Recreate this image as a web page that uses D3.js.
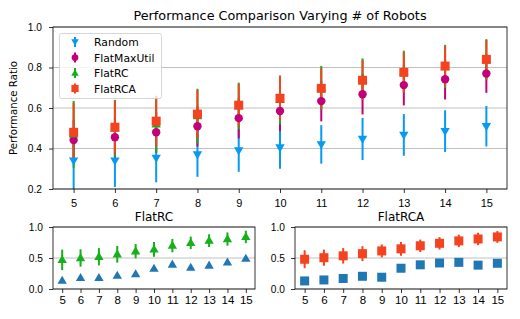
<!DOCTYPE html>
<html>
<head>
<meta charset="utf-8">
<script src="https://cdn.jsdelivr.net/npm/d3@7"></script>
<style>
  body { margin: 0; background: #fff; }
  svg { font-family: "DejaVu Sans", sans-serif; }
  .axis path, .axis line { stroke: #000; stroke-width: 0.8; }
  .axis text { fill: #000; }
</style>
</head>
<body>
<div id="chart"></div>
<script>
const robots = [5, 6, 7, 8, 9, 10, 11, 12, 13, 14, 15];

const randomMean = [0.34, 0.34, 0.353, 0.37, 0.39, 0.405, 0.42, 0.447, 0.467, 0.486, 0.51];
const randomErr = [0.15, 0.13, 0.12, 0.11, 0.105, 0.105, 0.095, 0.104, 0.103, 0.103, 0.1];
const maxUtilMean = [0.442, 0.456, 0.48, 0.51, 0.55, 0.585, 0.634, 0.668, 0.713, 0.742, 0.77];
const maxUtilErr = [0.1, 0.1, 0.1, 0.1, 0.1, 0.1, 0.1, 0.1, 0.1, 0.1, 0.095];
const rcMean = [0.47, 0.5, 0.52, 0.56, 0.61, 0.64, 0.7, 0.745, 0.78, 0.805, 0.84];
const rcErr = [0.165, 0.14, 0.14, 0.135, 0.115, 0.12, 0.108, 0.1, 0.103, 0.107, 0.1];
const rcaMean = [0.48, 0.505, 0.535, 0.57, 0.614, 0.648, 0.697, 0.737, 0.776, 0.807, 0.84];
const rcaErr = [0.145, 0.13, 0.125, 0.12, 0.105, 0.11, 0.1, 0.1, 0.1, 0.1, 0.095];

// blue series shown in the small panels
const rcBase = [0.135, 0.18, 0.18, 0.215, 0.24, 0.33, 0.395, 0.345, 0.38, 0.43, 0.49];
const rcaBase = [0.13, 0.146, 0.17, 0.205, 0.19, 0.335, 0.39, 0.42, 0.43, 0.385, 0.415];

const mainTicks = [0.2, 0.4, 0.6, 0.8, 1.0];
const smallTicks = [0.0, 0.5, 1.0];

const series = [
  { name: `Random`, mean: randomMean, err: randomErr, color: `#069af3`, shape: `down` },
  { name: `FlatMaxUtil`, mean: maxUtilMean, err: maxUtilErr, color: `#c20078`, shape: `circle` },
  { name: `FlatRC`, mean: rcMean, err: rcErr, color: `#15b01a`, shape: `up` },
  { name: `FlatRCA`, mean: rcaMean, err: rcaErr, color: `#f4431e`, shape: `square` }
];

const svg = d3.select(`#chart`).append(`svg`)
    .attr(`width`, 520)
    .attr(`height`, 319);

function drawMarker(g, shape, x, y, color, size) {
  size = size || 1;
  if (shape === `circle`) {
    g.append(`circle`).attr(`cx`, x).attr(`cy`, y).attr(`r`, 4.2 * size).attr(`fill`, color);
  } else if (shape === `square`) {
    const s = 9 * size;
    g.append(`rect`).attr(`x`, x - s / 2).attr(`y`, y - s / 2).attr(`width`, s).attr(`height`, s).attr(`fill`, color);
  } else {
    const rot = shape === `down` ? 180 : 0;
    g.append(`path`)
      .attr(`d`, d3.symbol().type(d3.symbolTriangle).size(38 * size * size)())
      .attr(`transform`, `translate(${x},${y + (shape === `down` ? -0.5 : 0.5)}) rotate(${rot})`)
      .attr(`fill`, color);
  }
}

function panel(opts) {
  const x = d3.scaleLinear().domain([4.5, 15.5]).range([opts.left, opts.right]);
  const y = d3.scaleLinear().domain(opts.yDomain).range([opts.bottom, opts.top]);
  const g = svg.append(`g`);

  g.append(`defs`).append(`clipPath`).attr(`id`, opts.id)
    .append(`rect`)
      .attr(`x`, opts.left).attr(`y`, opts.top)
      .attr(`width`, opts.right - opts.left).attr(`height`, opts.bottom - opts.top);

  g.append(`g`).selectAll(`line`)
    .data(opts.ticks)
    .enter().append(`line`)
      .attr(`x1`, opts.left).attr(`x2`, opts.right)
      .attr(`y1`, (d) => y(d)).attr(`y2`, (d) => y(d))
      .attr(`stroke`, `#b0b0b0`).attr(`stroke-width`, 0.8);

  const plot = g.append(`g`).attr(`clip-path`, `url(#${opts.id})`);

  g.append(`g`).attr(`class`, `axis`)
    .attr(`transform`, `translate(0,${opts.bottom})`)
    .call(d3.axisBottom(x).tickValues(robots).tickSize(4).tickPadding(opts.xPad).tickFormat(d3.format(`d`)))
    .call((a) => a.selectAll(`text`).attr(`font-size`, opts.xFont))
    .call((a) => a.select(`.domain`).remove());

  g.append(`g`).attr(`class`, `axis`)
    .attr(`transform`, `translate(${opts.left},0)`)
    .call(d3.axisLeft(y).tickValues(opts.ticks).tickSize(4).tickPadding(opts.yPad).tickFormat(d3.format(`.1f`)))
    .call((a) => a.selectAll(`text`).attr(`font-size`, 10.2))
    .call((a) => a.select(`.domain`).remove());

  g.append(`rect`)
    .attr(`x`, opts.left).attr(`y`, opts.top)
    .attr(`width`, opts.right - opts.left).attr(`height`, opts.bottom - opts.top)
    .attr(`fill`, `none`).attr(`stroke`, `#000`).attr(`stroke-width`, 0.8);

  g.append(`text`)
    .attr(`x`, (opts.left + opts.right) / 2)
    .attr(`y`, opts.top - opts.titleGap)
    .attr(`text-anchor`, `middle`)
    .attr(`font-size`, opts.titleSize)
    .text(opts.title);

  return { x, y, plot };
}

// main panel
const main = panel({
  id: `clipMain`, left: 53, right: 507, top: 27, bottom: 189,
  yDomain: [0.2, 1.0], ticks: mainTicks, xPad: 6, yPad: 7, xFont: 11,
  title: `Performance Comparison Varying # of Robots`, titleSize: 12.8, titleGap: 7.5
});

// error bars first, markers on top
series.forEach((s) => {
  main.plot.append(`g`).selectAll(`line`)
    .data(robots)
    .enter().append(`line`)
      .attr(`x1`, (d) => main.x(d)).attr(`x2`, (d) => main.x(d))
      .attr(`y1`, (d, i) => main.y(s.mean[i] - s.err[i]))
      .attr(`y2`, (d, i) => main.y(s.mean[i] + s.err[i]))
      .attr(`stroke`, s.color).attr(`stroke-width`, 2);
});
series.forEach((s) => {
  robots.forEach((r, i) => drawMarker(main.plot, s.shape, main.x(r), main.y(s.mean[i]), s.color));
});

svg.append(`text`)
  .attr(`transform`, `translate(17,108) rotate(-90)`)
  .attr(`text-anchor`, `middle`)
  .attr(`font-size`, 10.2)
  .text(`Performance Ratio`);

// legend
const legend = svg.append(`g`);
legend.append(`rect`)
  .attr(`x`, 59.5).attr(`y`, 33.5).attr(`width`, 102).attr(`height`, 65).attr(`rx`, 2)
  .attr(`fill`, `#fff`).attr(`fill-opacity`, 0.8)
  .attr(`stroke`, `#ccc`).attr(`stroke-width`, 0.8);
series.forEach((s, i) => {
  const ly = 42 + i * 15.5;
  legend.append(`line`)
    .attr(`x1`, 75).attr(`x2`, 75).attr(`y1`, ly - 5).attr(`y2`, ly + 5)
    .attr(`stroke`, s.color).attr(`stroke-width`, 2);
  drawMarker(legend, s.shape, 75, ly, s.color, 0.8);
  legend.append(`text`)
    .attr(`x`, 94).attr(`y`, ly + 4)
    .attr(`font-size`, 10.8)
    .text(s.name);
});

// small panels
function small(id, left, right, title, mean, err, color, base, shape) {
  const p = panel({
    id, left, right, top: 227, bottom: 289,
    yDomain: [0, 1], ticks: smallTicks, xPad: 3, yPad: 6, xFont: 11.5,
    title, titleSize: 12, titleGap: 6
  });
  p.plot.append(`g`).selectAll(`line`)
    .data(robots)
    .enter().append(`line`)
      .attr(`x1`, (d) => p.x(d)).attr(`x2`, (d) => p.x(d))
      .attr(`y1`, (d, i) => p.y(mean[i] - err[i]))
      .attr(`y2`, (d, i) => p.y(mean[i] + err[i]))
      .attr(`stroke`, color).attr(`stroke-width`, 2);
  robots.forEach((r, i) => drawMarker(p.plot, shape, p.x(r), p.y(mean[i]), color));
  robots.forEach((r, i) => drawMarker(p.plot, shape, p.x(r), p.y(base[i]), `#1f77b4`));
}

small(`clipRC`, 53, 255, `FlatRC`, rcMean, rcErr, `#15b01a`, rcBase, `up`);
small(`clipRCA`, 295, 507, `FlatRCA`, rcaMean, rcaErr, `#f4431e`, rcaBase, `square`);
</script>
</body>
</html>
